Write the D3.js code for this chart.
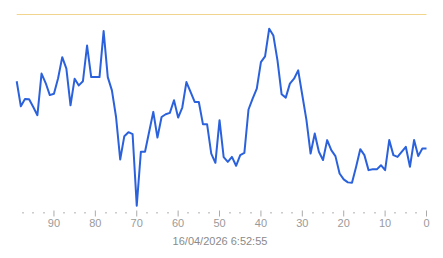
<!DOCTYPE html>
<html><head><meta charset="utf-8">
<script src="https://cdn.jsdelivr.net/npm/d3@7"></script>
<style>html,body{margin:0;padding:0;background:#fff;}svg{display:block;}</style>
</head><body>
<svg id="c" width="443" height="258"></svg>
<script>
// ages (newest = 0) and values
const ages = d3.range(99, -1, -1);
const values = [66.2,53.5,57.2,57.1,53.2,49.0,70.1,65.3,59.2,59.9,
67.7,78.4,72.6,54.0,67.5,64.1,66.2,84.3,68.3,68.3,
68.3,91.6,68.3,61.6,48.1,26.6,38.4,40.4,39.4,3.2,
30.5,30.5,40.6,50.7,37.7,48.1,49.5,50.2,56.6,47.8,
52.9,65.8,60.8,55.7,55.7,44.4,44.4,29.6,24.9,46.5,
27.8,25.4,27.9,23.4,28.8,29.9,51.9,57.4,62.5,75.9,
78.8,92.8,89.4,76.8,59.6,57.9,65.0,67.5,71.7,59.1,
46.5,29.6,39.7,30.5,26.3,36.4,31.3,28.3,19.5,16.5,
15.0,14.8,22.9,31.8,28.8,21.2,21.6,21.6,23.7,21.2,
36.4,28.8,27.9,30.5,33.0,22.9,36.4,28.3,32.2,32.2];
const thresholdValue = [100];
const majorTicks = [90, 80, 70, 60, 50, 40, 30, 20, 10, 0];
const minorTicks = d3.range(0, 100, 2.5).filter(t => t % 10 !== 0);
const timestampLabel = "16/04/2026 6:52:55";

const svg = d3.select("#c");
const x = d3.scaleLinear().domain([99, 0]).range([16.7, 426.5]);
const y = d3.scaleLinear().domain([0, 100]).range([212, 14.5]);

// threshold line
svg.selectAll("line.thr").data(thresholdValue).enter().append("line")
  .attr("x1", x(99)).attr("x2", x(0))
  .attr("y1", d => y(d)).attr("y2", d => y(d))
  .attr("stroke", "#f2d58c").attr("stroke-width", 1.2);

// series line
const data = ages.map((a, i) => ({a, v: values[i]}));
svg.append("path").datum(data)
  .attr("fill", "none").attr("stroke", "#2b62dc").attr("stroke-width", 2)
  .attr("stroke-linejoin", "round")
  .attr("d", d3.line().x(d => x(d.a)).y(d => y(d.v)));

// axis ticks
const axisY = 212.5;
svg.selectAll("rect.minor").data(minorTicks).enter().append("rect")
  .attr("x", d => Math.round(x(d)) - 0.5).attr("y", axisY - 0.5)
  .attr("width", 1).attr("height", 1.5).attr("fill", "#999");
svg.selectAll("line.major").data(majorTicks).enter().append("line")
  .attr("x1", d => x(d)).attr("x2", d => x(d))
  .attr("y1", axisY - 2).attr("y2", axisY + 4)
  .attr("stroke", "#aaa").attr("stroke-width", 1);
svg.selectAll("text.tl").data(majorTicks).enter().append("text")
  .attr("x", d => x(d)).attr("y", 227)
  .attr("text-anchor", "middle")
  .attr("font-family", "Arial, 'Liberation Sans', sans-serif").attr("font-size", 11)
  .attr("fill", "#9a9a9a").text(d => d);

svg.append("text").attr("x", 220).attr("y", 245)
  .attr("text-anchor", "middle")
  .attr("font-family", "Arial, 'Liberation Sans', sans-serif").attr("font-size", 11)
  .attr("fill", "#8a8a8a").text(timestampLabel);
</script>
</body></html>
